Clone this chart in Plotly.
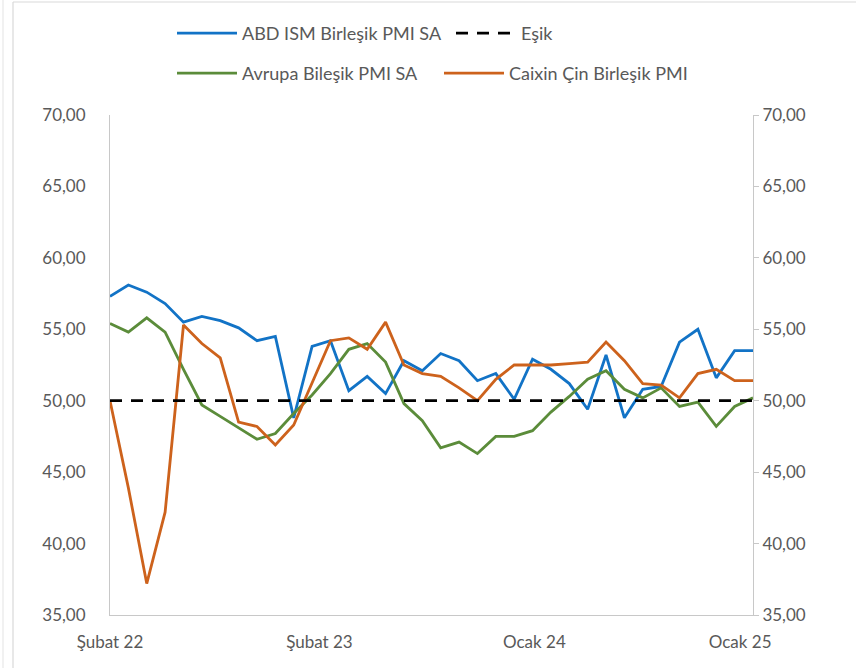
import plotly.graph_objects as go

# Monthly observations, Feb 2022 .. Jan 2025
months = ["Şub 22", "Mar 22", "Nis 22", "May 22", "Haz 22", "Tem 22", "Ağu 22", "Eyl 22", "Eki 22", "Kas 22", "Ara 22",
          "Oca 23", "Şub 23", "Mar 23", "Nis 23", "May 23", "Haz 23", "Tem 23", "Ağu 23", "Eyl 23", "Eki 23", "Kas 23", "Ara 23",
          "Oca 24", "Şub 24", "Mar 24", "Nis 24", "May 24", "Haz 24", "Tem 24", "Ağu 24", "Eyl 24", "Eki 24", "Kas 24", "Ara 24",
          "Oca 25"]

abd_ism = [57.3, 58.1, 57.6, 56.8, 55.5, 55.9, 55.6, 55.1, 54.2, 54.5, 48.8, 53.8,
           54.2, 50.7, 51.7, 50.5, 52.8, 52.1, 53.3, 52.8, 51.4, 51.9, 50.1, 52.9,
           52.2, 51.2, 49.4, 53.2, 48.8, 50.8, 51.0, 54.1, 55.0, 51.6, 53.5, 53.5]

esik = [50.0, 50.0, 50.0, 50.0, 50.0, 50.0, 50.0, 50.0, 50.0, 50.0, 50.0, 50.0,
        50.0, 50.0, 50.0, 50.0, 50.0, 50.0, 50.0, 50.0, 50.0, 50.0, 50.0, 50.0,
        50.0, 50.0, 50.0, 50.0, 50.0, 50.0, 50.0, 50.0, 50.0, 50.0, 50.0, 50.0]

avrupa = [55.4, 54.8, 55.8, 54.8, 52.2, 49.7, 48.9, 48.1, 47.3, 47.7, 49.1, 50.4,
          51.9, 53.6, 54.0, 52.7, 49.8, 48.6, 46.7, 47.1, 46.3, 47.5, 47.5, 47.9,
          49.2, 50.3, 51.5, 52.1, 50.8, 50.2, 50.9, 49.6, 49.9, 48.2, 49.6, 50.2]

caixin = [50.0, 43.9, 37.2, 42.2, 55.3, 54.0, 53.0, 48.5, 48.2, 46.9, 48.3, 51.2,
          54.2, 54.4, 53.6, 55.5, 52.5, 51.9, 51.7, 50.9, 50.0, 51.5, 52.5, 52.5,
          52.5, 52.6, 52.7, 54.1, 52.8, 51.2, 51.1, 50.2, 51.9, 52.2, 51.4, 51.4]

x_tick_pos = [0, 11.4, 23.1, 34.3]
x_tick_text = ["Şubat 22", "Şubat 23", "Ocak 24", "Ocak 25"]
y_ticks = [35, 40, 45, 50, 55, 60, 65, 70]

x = list(range(len(months)))

W, H = 856, 668
ML, MR, MT, MB = 110, 103, 115, 53
PW = W - ML - MR
PH = H - MT - MB

FONT = "Lato, Liberation Sans, Arial"
GRAY = "#595959"
AXIS = "#C8C8C8"
FS = 17

fig = go.Figure()
fig.add_trace(go.Scatter(x=x, y=abd_ism, mode="lines", name="ABD ISM Birleşik PMI SA",
                         line=dict(color="#1273C6", width=2.8), legend="legend"))
fig.add_trace(go.Scatter(x=x, y=esik, mode="lines", name="Eşik", yaxis="y2",
                         line=dict(color="#000000", width=2.8, dash="12px,9px"), legend="legend"))
fig.add_trace(go.Scatter(x=x, y=avrupa, mode="lines", name="Avrupa Bileşik PMI SA",
                         line=dict(color="#5B8C3A", width=2.8), legend="legend2"))
fig.add_trace(go.Scatter(x=x, y=caixin, mode="lines", name="Caixin Çin Birleşik PMI",
                         line=dict(color="#CD621C", width=2.8), legend="legend2"))


def px_x(p):
    return (p - ML) / PW


def px_y(p):
    return 1 - (p - MT) / PH


shapes = [
    dict(type="line", xref="paper", yref="paper", x0=px_x(13), x1=px_x(W + 5), y0=px_y(2), y1=px_y(2),
         line=dict(color="#D9D9D9", width=1.2)),
    dict(type="line", xref="paper", yref="paper", x0=px_x(13), x1=px_x(13), y0=px_y(2), y1=px_y(H + 5),
         line=dict(color="#D9D9D9", width=1.2)),
    dict(type="line", xref="paper", yref="paper", x0=px_x(3), x1=px_x(3), y0=px_y(-5), y1=px_y(H + 5),
         line=dict(color="#E3E3E3", width=1)),
]

legend_common = dict(orientation="h", xref="container", yref="container", xanchor="left", yanchor="top",
                     entrywidthmode="pixels", font=dict(family=FONT, size=18, color=GRAY),
                     itemwidth=60, bgcolor="rgba(0,0,0,0)")

fig.update_layout(
    width=W, height=H,
    margin=dict(l=ML, r=MR, t=MT, b=MB, autoexpand=False),
    paper_bgcolor="white", plot_bgcolor="white",
    separators=",.",
    font=dict(family=FONT, size=FS, color=GRAY),
    showlegend=True,
    legend=dict(x=172 / W, y=1 - 15 / H, entrywidth=204, **legend_common),
    legend2=dict(x=172 / W, y=1 - 55 / H, entrywidth=192, **legend_common),
    xaxis=dict(range=[0, 35], tickvals=x_tick_pos, ticktext=x_tick_text,
               showgrid=False, zeroline=False, showline=True, linecolor=AXIS, linewidth=1,
               ticks="", tickfont=dict(family=FONT, size=FS, color=GRAY), ticklabelstandoff=12),
    yaxis=dict(range=[35, 70], tickvals=y_ticks, tickformat=".2f",
               showgrid=False, zeroline=False, showline=True, linecolor=AXIS, linewidth=1,
               ticks="", tickfont=dict(family=FONT, size=FS, color=GRAY), ticklabelstandoff=20),
    yaxis2=dict(range=[35, 70], tickvals=y_ticks, tickformat=".2f", overlaying="y", side="right",
                showgrid=False, zeroline=False, showline=True, linecolor=AXIS, linewidth=1,
                ticks="outside", ticklen=5, tickcolor=AXIS,
                tickfont=dict(family=FONT, size=FS, color=GRAY)),
    shapes=shapes,
)

fig.write_html("out.html", config={"displayModeBar": False},
               post_script="document.body.style.margin='0';document.body.style.overflow='hidden';")
